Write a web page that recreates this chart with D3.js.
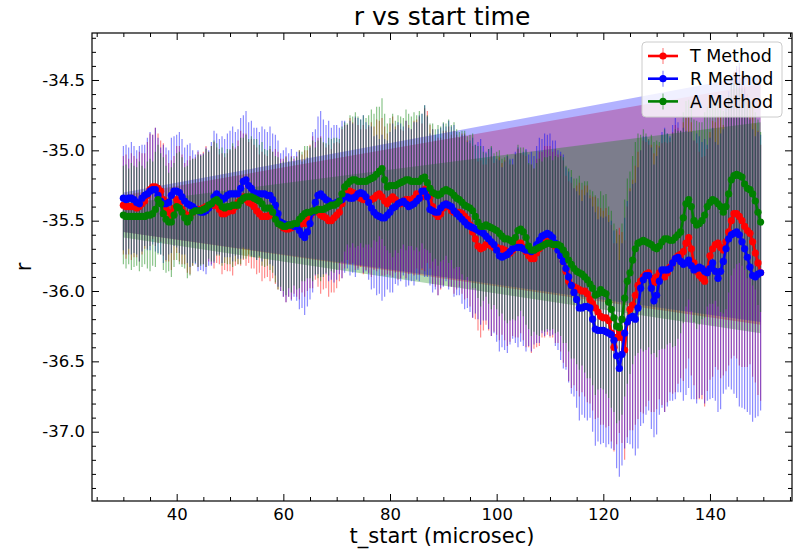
<!DOCTYPE html>
<html><head><meta charset="utf-8">
<script src="https://cdn.jsdelivr.net/npm/d3@7"></script>
<style>body{margin:0;background:#fff}svg{display:block}text{font-family:"DejaVu Sans",sans-serif;fill:#000}</style>
</head><body><svg id="c" width="796" height="553"></svg>
<script>
const tStart=[30,30.5,31,31.5,32,32.5,33,33.5,34,34.5,35,35.5,36,36.5,37,37.5,38,38.5,39,39.5,40,40.5,41,41.5,42,42.5,43,43.5,44,44.5,45,45.5,46,46.5,47,47.5,48,48.5,49,49.5,50,50.5,51,51.5,52,52.5,53,53.5,54,54.5,55,55.5,56,56.5,57,57.5,58,58.5,59,59.5,60,60.5,61,61.5,62,62.5,63,63.5,64,64.5,65,65.5,66,66.5,67,67.5,68,68.5,69,69.5,70,70.5,71,71.5,72,72.5,73,73.5,74,74.5,75,75.5,76,76.5,77,77.5,78,78.5,79,79.5,80,80.5,81,81.5,82,82.5,83,83.5,84,84.5,85,85.5,86,86.5,87,87.5,88,88.5,89,89.5,90,90.5,91,91.5,92,92.5,93,93.5,94,94.5,95,95.5,96,96.5,97,97.5,98,98.5,99,99.5,100,100.5,101,101.5,102,102.5,103,103.5,104,104.5,105,105.5,106,106.5,107,107.5,108,108.5,109,109.5,110,110.5,111,111.5,112,112.5,113,113.5,114,114.5,115,115.5,116,116.5,117,117.5,118,118.5,119,119.5,120,120.5,121,121.5,122,122.5,123,123.5,124,124.5,125,125.5,126,126.5,127,127.5,128,128.5,129,129.5,130,130.5,131,131.5,132,132.5,133,133.5,134,134.5,135,135.5,136,136.5,137,137.5,138,138.5,139,139.5,140,140.5,141,141.5,142,142.5,143,143.5,144,144.5,145,145.5,146,146.5,147,147.5,148,148.5,149,149.5];
const rT=[-35.39,-35.40,-35.40,-35.40,-35.40,-35.41,-35.40,-35.38,-35.36,-35.32,
-35.28,-35.26,-35.26,-35.27,-35.29,-35.35,-35.41,-35.44,-35.46,-35.41,
-35.35,-35.38,-35.42,-35.45,-35.47,-35.46,-35.44,-35.42,-35.42,-35.42,
-35.41,-35.40,-35.40,-35.39,-35.39,-35.39,-35.42,-35.45,-35.45,-35.44,
-35.43,-35.43,-35.40,-35.37,-35.34,-35.33,-35.35,-35.37,-35.38,-35.40,
-35.43,-35.45,-35.47,-35.47,-35.47,-35.46,-35.46,-35.47,-35.50,-35.53,
-35.55,-35.56,-35.56,-35.55,-35.54,-35.54,-35.53,-35.52,-35.52,-35.50,
-35.47,-35.44,-35.43,-35.44,-35.46,-35.47,-35.48,-35.50,-35.50,-35.48,
-35.46,-35.44,-35.38,-35.33,-35.30,-35.29,-35.30,-35.31,-35.33,-35.34,
-35.35,-35.35,-35.35,-35.35,-35.34,-35.32,-35.31,-35.33,-35.36,-35.38,
-35.35,-35.33,-35.35,-35.37,-35.38,-35.36,-35.35,-35.35,-35.36,-35.34,
-35.31,-35.32,-35.33,-35.28,-35.26,-35.33,-35.40,-35.45,-35.47,-35.45,
-35.41,-35.38,-35.40,-35.43,-35.44,-35.44,-35.44,-35.45,-35.47,-35.49,
-35.53,-35.58,-35.63,-35.68,-35.70,-35.69,-35.67,-35.67,-35.68,-35.69,
-35.69,-35.70,-35.70,-35.71,-35.72,-35.73,-35.71,-35.68,-35.66,-35.66,
-35.69,-35.72,-35.75,-35.77,-35.77,-35.73,-35.70,-35.67,-35.65,-35.64,
-35.65,-35.67,-35.68,-35.70,-35.73,-35.79,-35.86,-35.93,-35.96,-35.97,
-35.98,-35.99,-36.00,-36.00,-36.02,-36.06,-36.09,-36.12,-36.15,-36.18,
-36.19,-36.19,-36.21,-36.30,-36.40,-36.33,-36.28,-36.33,-36.42,-36.22,
-36.13,-36.10,-36.03,-35.96,-35.93,-35.90,-35.88,-35.87,-35.91,-35.94,
-35.90,-35.87,-35.88,-35.90,-35.87,-35.83,-35.80,-35.77,-35.75,-35.74,
-35.72,-35.66,-35.62,-35.70,-35.80,-35.86,-35.89,-35.91,-35.93,-35.85,
-35.75,-35.70,-35.67,-35.66,-35.69,-35.71,-35.65,-35.58,-35.50,-35.45,
-35.45,-35.47,-35.50,-35.54,-35.57,-35.59,-35.65,-35.73,-35.80,-35.87];
const rR=[-35.34,-35.35,-35.34,-35.34,-35.35,-35.37,-35.38,-35.34,-35.32,-35.31,
-35.29,-35.28,-35.28,-35.32,-35.36,-35.38,-35.38,-35.37,-35.32,-35.29,
-35.29,-35.30,-35.33,-35.36,-35.38,-35.39,-35.40,-35.42,-35.43,-35.44,
-35.44,-35.43,-35.41,-35.38,-35.33,-35.31,-35.33,-35.35,-35.34,-35.32,
-35.31,-35.31,-35.31,-35.31,-35.27,-35.22,-35.21,-35.25,-35.27,-35.30,
-35.31,-35.31,-35.31,-35.31,-35.32,-35.32,-35.35,-35.39,-35.45,-35.51,
-35.52,-35.53,-35.53,-35.53,-35.54,-35.54,-35.57,-35.60,-35.62,-35.58,
-35.52,-35.44,-35.37,-35.32,-35.31,-35.33,-35.35,-35.36,-35.38,-35.38,
-35.37,-35.36,-35.35,-35.33,-35.33,-35.34,-35.34,-35.33,-35.31,-35.30,
-35.31,-35.33,-35.37,-35.41,-35.44,-35.46,-35.47,-35.48,-35.48,-35.46,
-35.44,-35.41,-35.40,-35.38,-35.37,-35.36,-35.38,-35.40,-35.39,-35.38,
-35.36,-35.34,-35.29,-35.29,-35.33,-35.42,-35.43,-35.44,-35.44,-35.41,
-35.39,-35.38,-35.39,-35.40,-35.43,-35.45,-35.47,-35.49,-35.51,-35.53,
-35.54,-35.55,-35.56,-35.57,-35.58,-35.59,-35.61,-35.63,-35.65,-35.67,
-35.71,-35.75,-35.76,-35.75,-35.74,-35.72,-35.70,-35.69,-35.69,-35.69,
-35.70,-35.71,-35.71,-35.72,-35.71,-35.67,-35.64,-35.61,-35.60,-35.59,
-35.60,-35.62,-35.66,-35.71,-35.75,-35.79,-35.84,-35.90,-35.96,-36.01,
-36.06,-36.12,-36.12,-36.11,-36.11,-36.12,-36.20,-36.27,-36.28,-36.28,
-36.28,-36.29,-36.30,-36.31,-36.35,-36.46,-36.55,-36.45,-36.30,-36.22,
-36.19,-36.18,-36.20,-36.12,-35.98,-35.92,-35.89,-35.89,-35.98,-36.07,
-36.03,-35.93,-35.85,-35.85,-35.85,-35.84,-35.80,-35.77,-35.76,-35.79,
-35.81,-35.80,-35.78,-35.82,-35.85,-35.84,-35.83,-35.84,-35.86,-35.87,
-35.84,-35.80,-35.86,-35.91,-35.86,-35.79,-35.70,-35.63,-35.60,-35.59,
-35.58,-35.60,-35.65,-35.70,-35.76,-35.83,-35.89,-35.90,-35.88,-35.87];
const rA=[-35.46,-35.47,-35.47,-35.47,-35.47,-35.47,-35.47,-35.47,-35.47,-35.46,
-35.46,-35.45,-35.42,-35.35,-35.38,-35.45,-35.49,-35.51,-35.51,-35.46,
-35.40,-35.41,-35.44,-35.48,-35.51,-35.48,-35.44,-35.43,-35.43,-35.43,
-35.42,-35.41,-35.39,-35.38,-35.36,-35.35,-35.37,-35.40,-35.41,-35.40,
-35.40,-35.39,-35.39,-35.39,-35.36,-35.34,-35.33,-35.33,-35.33,-35.34,
-35.35,-35.36,-35.38,-35.41,-35.41,-35.41,-35.44,-35.49,-35.52,-35.53,
-35.54,-35.54,-35.53,-35.53,-35.52,-35.52,-35.49,-35.47,-35.45,-35.44,
-35.44,-35.43,-35.43,-35.42,-35.42,-35.42,-35.41,-35.40,-35.39,-35.39,
-35.38,-35.36,-35.31,-35.26,-35.24,-35.22,-35.21,-35.21,-35.22,-35.22,
-35.22,-35.22,-35.21,-35.20,-35.19,-35.17,-35.15,-35.13,-35.21,-35.26,
-35.25,-35.25,-35.25,-35.24,-35.23,-35.22,-35.21,-35.21,-35.22,-35.22,
-35.22,-35.22,-35.20,-35.19,-35.23,-35.27,-35.30,-35.31,-35.32,-35.31,
-35.29,-35.28,-35.29,-35.30,-35.32,-35.34,-35.35,-35.37,-35.39,-35.40,
-35.41,-35.43,-35.47,-35.51,-35.54,-35.54,-35.53,-35.54,-35.55,-35.56,
-35.57,-35.59,-35.61,-35.63,-35.63,-35.64,-35.65,-35.62,-35.57,-35.56,
-35.58,-35.62,-35.68,-35.71,-35.71,-35.70,-35.69,-35.68,-35.67,-35.66,
-35.66,-35.67,-35.67,-35.67,-35.68,-35.71,-35.74,-35.78,-35.81,-35.84,
-35.86,-35.87,-35.88,-35.90,-35.92,-35.95,-35.98,-36.03,-36.02,-35.99,
-36.01,-36.02,-36.08,-36.13,-36.19,-36.25,-36.26,-36.20,-36.05,-35.93,
-35.87,-35.78,-35.70,-35.66,-35.65,-35.64,-35.65,-35.66,-35.67,-35.69,
-35.70,-35.68,-35.65,-35.63,-35.63,-35.64,-35.64,-35.62,-35.60,-35.58,
-35.48,-35.38,-35.35,-35.40,-35.50,-35.53,-35.52,-35.50,-35.46,-35.40,
-35.37,-35.35,-35.36,-35.38,-35.40,-35.44,-35.40,-35.31,-35.21,-35.18,
-35.17,-35.18,-35.19,-35.24,-35.27,-35.28,-35.31,-35.36,-35.44,-35.51];
const errT=[0.35,0.37,0.34,0.38,0.36,0.35,0.39,0.36,0.34,0.38,
0.40,0.37,0.42,0.39,0.36,0.40,0.38,0.35,0.39,0.37,
0.38,0.41,0.39,0.36,0.40,0.42,0.38,0.37,0.41,0.39,
0.40,0.43,0.39,0.42,0.45,0.41,0.39,0.43,0.40,0.42,
0.43,0.46,0.42,0.44,0.48,0.45,0.47,0.43,0.46,0.44,
0.45,0.42,0.46,0.44,0.43,0.47,0.45,0.48,0.49,0.47,
0.49,0.52,0.48,0.51,0.48,0.50,0.53,0.49,0.52,0.50,
0.51,0.54,0.49,0.53,0.56,0.52,0.50,0.54,0.51,0.53,
0.52,0.49,0.53,0.51,0.48,0.52,0.50,0.54,0.51,0.49,
0.53,0.50,0.52,0.55,0.51,0.54,0.52,0.56,0.53,0.50,
0.54,0.57,0.52,0.55,0.53,0.50,0.56,0.53,0.51,0.55,
0.53,0.56,0.52,0.58,0.54,0.51,0.55,0.52,0.56,0.54,
0.55,0.52,0.57,0.54,0.58,0.55,0.53,0.57,0.59,0.56,
0.58,0.61,0.57,0.60,0.63,0.59,0.57,0.61,0.64,0.60,
0.62,0.65,0.61,0.64,0.67,0.63,0.61,0.65,0.67,0.64,
0.66,0.68,0.65,0.67,0.64,0.67,0.69,0.66,0.68,0.67,
0.68,0.66,0.69,0.67,0.70,0.72,0.68,0.71,0.73,0.70,
0.73,0.76,0.72,0.75,0.77,0.74,0.76,0.79,0.75,0.77,
0.76,0.78,0.75,0.77,0.74,0.76,0.73,0.75,0.78,0.82,
0.86,0.89,0.92,0.95,0.93,0.97,0.94,0.91,0.95,0.92,
0.94,0.90,0.93,0.96,0.92,0.89,0.93,0.95,0.91,0.88,
0.92,0.89,0.86,0.90,0.87,0.91,0.88,0.86,0.89,0.86,
0.88,0.91,0.87,0.90,0.93,0.89,0.92,0.95,0.98,1.01,
1.03,1.06,1.04,1.00,0.97,0.93,0.96,0.92,0.94,0.91];
const errR=[0.37,0.39,0.36,0.40,0.38,0.37,0.41,0.38,0.36,0.40,
0.42,0.39,0.44,0.41,0.38,0.42,0.40,0.37,0.41,0.39,
0.40,0.43,0.41,0.38,0.42,0.44,0.40,0.39,0.43,0.41,
0.42,0.45,0.41,0.44,0.47,0.43,0.41,0.45,0.42,0.44,
0.45,0.48,0.44,0.46,0.50,0.47,0.49,0.45,0.48,0.46,
0.47,0.44,0.48,0.46,0.45,0.49,0.47,0.50,0.52,0.49,
0.52,0.55,0.51,0.54,0.50,0.53,0.56,0.52,0.55,0.53,
0.54,0.57,0.52,0.56,0.59,0.55,0.53,0.57,0.54,0.56,
0.55,0.52,0.56,0.54,0.51,0.55,0.53,0.57,0.54,0.52,
0.56,0.53,0.55,0.58,0.54,0.57,0.55,0.59,0.56,0.53,
0.57,0.60,0.55,0.58,0.56,0.53,0.59,0.56,0.54,0.58,
0.56,0.59,0.55,0.61,0.57,0.54,0.58,0.55,0.59,0.57,
0.58,0.55,0.60,0.57,0.61,0.58,0.56,0.60,0.62,0.59,
0.61,0.64,0.60,0.63,0.66,0.62,0.60,0.64,0.67,0.63,
0.65,0.68,0.64,0.67,0.70,0.66,0.64,0.68,0.71,0.67,
0.69,0.72,0.68,0.71,0.67,0.70,0.73,0.69,0.72,0.70,
0.72,0.69,0.73,0.71,0.74,0.76,0.72,0.75,0.77,0.74,
0.77,0.80,0.76,0.79,0.81,0.78,0.80,0.83,0.79,0.81,
0.80,0.82,0.79,0.81,0.78,0.80,0.77,0.79,0.82,0.86,
0.90,0.94,0.97,1.00,0.98,1.02,0.99,0.96,1.00,0.97,
0.99,0.95,0.98,1.01,0.97,0.94,0.98,1.00,0.96,0.93,
0.97,0.94,0.91,0.95,0.92,0.96,0.93,0.90,0.94,0.91,
0.93,0.96,0.92,0.95,0.98,0.94,1.00,1.05,1.10,1.14,
1.18,1.22,1.18,1.14,1.10,1.05,1.04,1.00,1.01,0.98];
const errA=[0.35,0.37,0.34,0.38,0.36,0.35,0.39,0.36,0.34,0.38,
0.40,0.37,0.41,0.39,0.36,0.40,0.38,0.35,0.39,0.37,
0.38,0.40,0.39,0.36,0.40,0.41,0.38,0.37,0.40,0.39,
0.39,0.42,0.38,0.41,0.43,0.40,0.38,0.42,0.39,0.41,
0.41,0.44,0.40,0.42,0.45,0.43,0.44,0.41,0.43,0.42,
0.43,0.40,0.44,0.42,0.41,0.44,0.43,0.45,0.47,0.44,
0.46,0.49,0.45,0.48,0.44,0.47,0.49,0.46,0.48,0.47,
0.47,0.50,0.45,0.49,0.51,0.48,0.46,0.49,0.47,0.48,
0.47,0.44,0.48,0.46,0.43,0.47,0.45,0.48,0.46,0.44,
0.47,0.45,0.46,0.49,0.45,0.48,0.46,0.50,0.47,0.45,
0.48,0.51,0.46,0.49,0.47,0.45,0.50,0.47,0.46,0.49,
0.47,0.50,0.46,0.51,0.48,0.46,0.49,0.46,0.50,0.48,
0.49,0.47,0.51,0.48,0.52,0.49,0.48,0.51,0.53,0.50,
0.52,0.55,0.51,0.54,0.57,0.53,0.51,0.55,0.58,0.54,
0.56,0.59,0.55,0.58,0.60,0.57,0.55,0.59,0.61,0.58,
0.60,0.62,0.59,0.61,0.58,0.61,0.63,0.60,0.62,0.61,
0.62,0.60,0.63,0.62,0.64,0.66,0.63,0.65,0.67,0.64,
0.66,0.69,0.65,0.68,0.70,0.67,0.69,0.71,0.68,0.70,
0.69,0.71,0.68,0.70,0.67,0.69,0.66,0.68,0.70,0.73,
0.72,0.74,0.76,0.78,0.76,0.79,0.77,0.74,0.78,0.75,
0.77,0.74,0.76,0.78,0.75,0.73,0.76,0.77,0.74,0.72,
0.75,0.73,0.71,0.74,0.72,0.74,0.72,0.70,0.73,0.71,
0.72,0.74,0.71,0.73,0.75,0.72,0.73,0.70,0.68,0.66,
0.64,0.62,0.63,0.61,0.64,0.62,0.65,0.63,0.66,0.64];
const fillX=[30,149.5];
const fillHiR=[-35.30,-34.46], fillLoR=[-35.58,-36.22];
const fillHiT=[-35.32,-34.53], fillLoT=[-35.58,-36.24];
const fillHiA=[-35.38,-34.80], fillLoA=[-35.62,-36.30];
const xMajor=[40,60,80,100,120,140];
const xMinor=[25,30,35,45,50,55,65,70,75,85,90,95,105,110,115,125,130,135,145,150,155];
const yMajor=[-34.5,-35.0,-35.5,-36.0,-36.5,-37.0];
const yMinor=[-34.2,-34.3,-34.4,-34.6,-34.7,-34.8,-34.9,-35.1,-35.2,-35.3,-35.4,-35.6,-35.7,-35.8,-35.9,-36.1,-36.2,-36.3,-36.4,-36.6,-36.7,-36.8,-36.9,-37.1,-37.2,-37.3,-37.4];
const seriesNames=["T Method","R Method","A Method"];
const seriesColors=["#ff0000","#0000ff","#008000"];

const L=92,R=792,T=33,B=501;
const svg=d3.select("#c");
const x=d3.scaleLinear().domain([24.12,155.38]).range([L,R]);
const y=d3.scaleLinear().domain([-37.4926,-34.166]).range([B,T]);
svg.append("defs").append("clipPath").attr("id","clip").append("rect").attr("x",L).attr("y",T).attr("width",R-L).attr("height",B-T);
const plot=svg.append("g").attr("clip-path","url(#clip)");

const series=[
 {name:seriesNames[0],color:seriesColors[0],v:rT,e:errT,hi:fillHiT,lo:fillLoT},
 {name:seriesNames[1],color:seriesColors[1],v:rR,e:errR,hi:fillHiR,lo:fillLoR},
 {name:seriesNames[2],color:seriesColors[2],v:rA,e:errA,hi:fillHiA,lo:fillLoA}];
series.forEach(s=>{
 const pts=fillX.map((t,j)=>({t,hi:s.hi[j],lo:s.lo[j]}));
 plot.append("path").datum(pts).attr("fill",s.color).attr("fill-opacity",0.3)
  .attr("d",d3.area().x(d=>x(d.t)).y0(d=>y(d.lo)).y1(d=>y(d.hi)));
});
series.forEach(s=>{
 plot.append("g").selectAll("line").data(tStart).join("line")
  .attr("x1",(t)=>x(t)).attr("x2",(t)=>x(t))
  .attr("y1",(t,i)=>y(s.v[i]-s.e[i])).attr("y2",(t,i)=>y(s.v[i]+s.e[i]))
  .attr("stroke",s.color).attr("stroke-opacity",0.5).attr("stroke-width",1.1);
});
series.forEach(s=>{
 const pts=tStart.map((t,i)=>[t,s.v[i]]);
 plot.append("path").datum(pts).attr("fill","none").attr("stroke",s.color).attr("stroke-width",2.6)
  .attr("d",d3.line().x(d=>x(d[0])).y(d=>y(d[1])));
 plot.append("g").selectAll("circle").data(pts).join("circle")
  .attr("cx",d=>x(d[0])).attr("cy",d=>y(d[1])).attr("r",3.6).attr("fill",s.color);
});

const fmt=d=>d.toFixed(1);
function styleAxis(g){g.select(".domain").remove();g.selectAll("line").attr("stroke","#000").attr("stroke-width",1);g.selectAll("text").style("font-family","DejaVu Sans").style("font-size","16.5px").attr("fill","#000");}
const xm=xMinor.filter(v=>x(v)>L&&x(v)<R);
svg.append("g").attr("transform",`translate(0,${B})`).call(d3.axisBottom(x).tickValues(xMajor).tickSize(-7).tickSizeOuter(0).tickPadding(7).tickFormat(d3.format("d"))).call(styleAxis);
svg.append("g").attr("transform",`translate(0,${B})`).call(d3.axisBottom(x).tickValues(xm).tickSize(-4).tickFormat("")).call(styleAxis);
svg.append("g").attr("transform",`translate(0,${T})`).call(d3.axisTop(x).tickValues(xMajor).tickSize(-7).tickFormat("")).call(styleAxis);
svg.append("g").attr("transform",`translate(0,${T})`).call(d3.axisTop(x).tickValues(xm).tickSize(-4).tickFormat("")).call(styleAxis);
svg.append("g").attr("transform",`translate(${L},0)`).call(d3.axisLeft(y).tickValues(yMajor).tickSize(-7).tickPadding(7).tickFormat(fmt)).call(styleAxis);
svg.append("g").attr("transform",`translate(${L},0)`).call(d3.axisLeft(y).tickValues(yMinor).tickSize(-4).tickFormat("")).call(styleAxis);
svg.append("g").attr("transform",`translate(${R},0)`).call(d3.axisRight(y).tickValues(yMajor).tickSize(-7).tickFormat("")).call(styleAxis);
svg.append("g").attr("transform",`translate(${R},0)`).call(d3.axisRight(y).tickValues(yMinor).tickSize(-4).tickFormat("")).call(styleAxis);
svg.append("rect").attr("x",L).attr("y",T).attr("width",R-L).attr("height",B-T).attr("fill","none").attr("stroke","#000").attr("stroke-width",1.2);

svg.append("text").attr("x",(L+R)/2).attr("y",25).attr("text-anchor","middle").style("font-size","25px").text("r vs start time");
svg.append("text").attr("x",(L+R)/2).attr("y",543).attr("text-anchor","middle").style("font-size","21px").text("t_start (microsec)");
svg.append("text").attr("transform","translate(31,267) rotate(-90)").attr("text-anchor","middle").style("font-size","21px").text("r");

const lg=svg.append("g");
lg.append("rect").attr("x",642).attr("y",42).attr("width",140).attr("height",75).attr("rx",4)
 .attr("fill","#fff").attr("fill-opacity",0.8).attr("stroke","#cccccc").attr("stroke-width",1);
series.forEach((s,i)=>{const cy=56+i*22.7;
 lg.append("line").attr("x1",663).attr("x2",663).attr("y1",cy-8).attr("y2",cy+8).attr("stroke",s.color).attr("stroke-opacity",0.5).attr("stroke-width",1.1);
 lg.append("line").attr("x1",648).attr("x2",678).attr("y1",cy).attr("y2",cy).attr("stroke",s.color).attr("stroke-width",2.6);
 lg.append("circle").attr("cx",663).attr("cy",cy).attr("r",3.6).attr("fill",s.color);
 lg.append("text").attr("x",690).attr("y",cy).attr("dy","0.36em").style("font-size","17.5px").text(s.name);
});
</script></body></html>
